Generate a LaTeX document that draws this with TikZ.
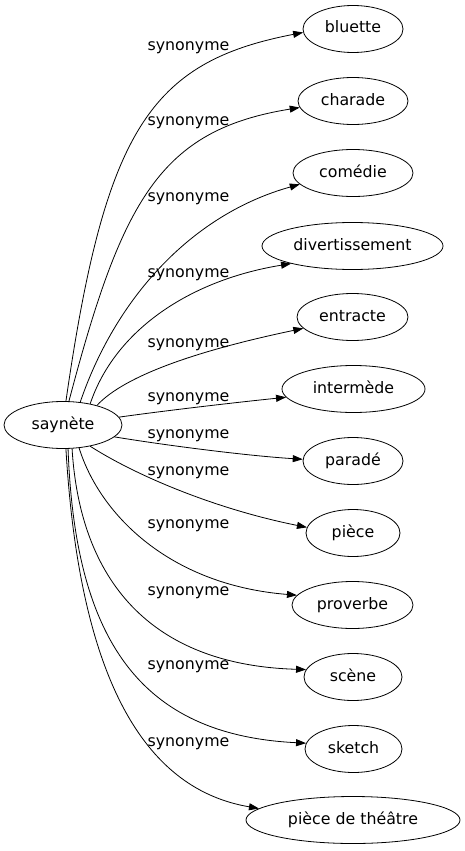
\documentclass[tikz,border=0pt]{standalone}
\usepackage{fontspec}
\setmainfont{DejaVu Sans}
\usetikzlibrary{shapes.geometric,arrows.meta}
\tikzset{
  term/.style={ellipse, draw, line width=0.8pt, inner sep=0pt, minimum height=47pt,
    text height=11.5pt, text depth=3.5pt, font=\fontsize{15.8}{18}\selectfont},
  rel/.style={anchor=base, inner sep=0pt, font=\fontsize{15.8}{18}\selectfont},
  link/.style={line width=0.8pt, -{Triangle[length=10pt,width=7pt]}}
}
\begin{document}
\begin{tikzpicture}[x=1pt,y=-1pt]
\useasboundingbox (0,0) rectangle (465,851);
% nodes
\node[term, minimum width=118pt] (saynete) at (63,425) {saynète};
\node[term, minimum width=100pt] (bluette) at (353,29) {bluette};
\node[term, minimum width=110pt] (charade) at (353,101) {charade};
\node[term, minimum width=120pt] (comedie) at (353,173) {comédie};
\node[term, minimum width=181pt] (divert) at (352.5,246) {divertissement};
\node[term, minimum width=111pt] (entracte) at (352.5,317) {entracte};
\node[term, minimum width=143pt] (intermede) at (353.5,389) {intermède};
\node[term, minimum width=100pt] (parade) at (353,461) {paradé};
\node[term, minimum width=94pt] (piece) at (353,533) {pièce};
\node[term, minimum width=121pt] (proverbe) at (352.5,605) {proverbe};
\node[term, minimum width=98pt] (scene) at (353,677) {scène};
\node[term, minimum width=97pt] (sketch) at (353.5,749) {sketch};
\node[term, minimum width=214pt] (theatre) at (353,820) {pièce de théâtre};
% edges
\draw[link] (saynete.83) .. controls (105,130) and (150,62) .. (bluette.184);
\draw[link] (saynete.76) .. controls (122,200) and (160,130) .. (charade.187);
\draw[link] (saynete.53) .. controls (115,300) and (190,215) .. (comedie.192);
\draw[link] (saynete.38) .. controls (115,330) and (190,280) .. (divert.196);
\draw[link] (saynete.30) .. controls (125,375) and (200,350) .. (entracte.193);
\draw[link] (saynete.8) .. controls (170,410) and (240,402) .. (intermede.187);
\draw[link] (saynete.347) .. controls (170,446) and (250,456) .. (parade.178);
\draw[link] (saynete.322) .. controls (140,478) and (220,510) .. (piece.173);
\draw[link] (saynete.305) .. controls (100,515) and (170,585) .. (proverbe.170);
\draw[link] (saynete.291) .. controls (80,580) and (150,665) .. (scene.171);
\draw[link] (saynete.282) .. controls (75,640) and (140,735) .. (sketch.173);
\draw[link] (saynete.277) .. controls (80,690) and (150,790) .. (theatre.173.5);
% labels
\node[rel] (l1) at (188.5,51) {synonyme};
\node[rel] (l2) at (188.5,125) {synonyme};
\node[rel] (l3) at (188.5,201) {synonyme};
\node[rel] (l4) at (188.5,277) {synonyme};
\node[rel] (l5) at (188.5,347.5) {synonyme};
\node[rel] (l6) at (188.5,401.5) {synonyme};
\node[rel] (l7) at (188.5,438) {synonyme};
\node[rel] (l8) at (188.5,475) {synonyme};
\node[rel] (l9) at (188.5,528) {synonyme};
\node[rel] (l10) at (188.5,595) {synonyme};
\node[rel] (l11) at (188.5,669) {synonyme};
\node[rel] (l12) at (188.5,746) {synonyme};
\end{tikzpicture}
\end{document}
